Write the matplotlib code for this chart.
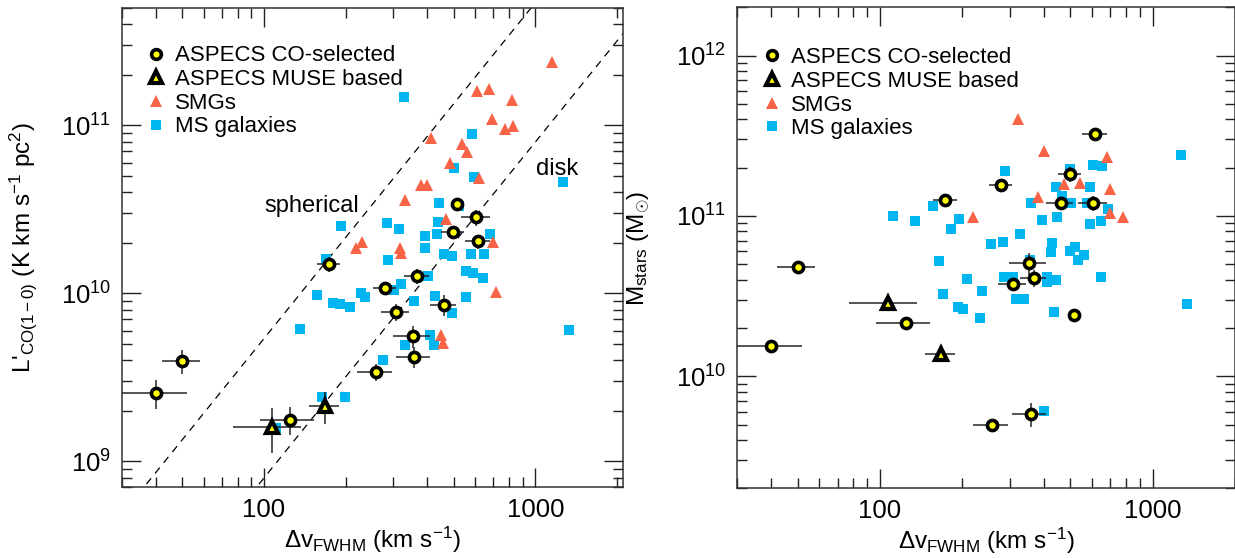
import numpy as np
import matplotlib
matplotlib.use("Agg")
import matplotlib.pyplot as plt
from matplotlib.lines import Line2D
from matplotlib.ticker import LogLocator, FuncFormatter, NullFormatter

plt.rcParams['font.family'] = ['Liberation Sans', 'DejaVu Sans']
plt.rcParams['mathtext.fontset'] = 'custom'
plt.rcParams['mathtext.rm'] = 'Liberation Sans'
plt.rcParams['mathtext.it'] = 'Liberation Sans:italic'
plt.rcParams['mathtext.bf'] = 'Liberation Sans:bold'

# ────────────────────────────────────────────────
# Data
# ────────────────────────────────────────────────
# ASPECS CO-selected: same galaxies in both panels
aspecs_v = [40, 50, 125, 174, 258, 279, 307, 353, 357, 367, 460, 498, 515, 607, 615]
aspecs_verr = [12, 8, 28, 17, 38, 27, 36, 55, 51, 40, 52, 48, 0, 75, 65]
aspecs_L = [2.56e9, 3.95e9, 1.77e9, 1.49e10, 3.40e9, 1.08e10, 7.71e9, 5.57e9,
            4.20e9, 1.27e10, 8.52e9, 2.32e10, 3.42e10, 2.83e10, 2.04e10]
aspecs_Lerr = [0.5e9, 0.62e9, 0.33e9, 1.5e9, 0.4e9, 0.8e9, 0.9e9, 0.85e9,
               0.6e9, 1.3e9, 1.2e9, 1.8e9, 0, 3.0e9, 2.0e9]
aspecs_M = [1.55e10, 4.81e10, 2.14e10, 1.26e11, 5.0e9, 1.55e11, 3.74e10, 5.07e10,
            5.81e9, 4.08e10, 1.20e11, 1.83e11, 2.40e10, 1.21e11, 3.23e11]
aspecs_Merr = [0, 0, 0, 0, 0, 0, 0, 8e9, 1e9, 5e9, 1e10, 2e10, 0, 1.3e10, 0]

# ASPECS MUSE based
muse_v = [107, 168]
muse_verr = [30, 21]
muse_L = [1.60e9, 2.13e9]
muse_Lerr = [0.48e9, 0.47e9]
muse_M = [2.85e10, 1.37e10]

# SMGs
smg_v_L = [1153, 609, 676, 822, 690, 774, 826, 412, 538, 558, 486, 623,
           378, 398, 330, 468, 230, 219, 318, 319, 698, 718, 450, 458]
smg_L = [2.39e11, 1.60e11, 1.64e11, 1.42e11, 1.09e11, 9.46e10, 9.91e10, 8.46e10,
         7.78e10, 6.97e10, 5.94e10, 4.89e10, 4.40e10, 4.40e10, 3.59e10, 2.76e10,
         2.03e10, 1.85e10, 1.85e10, 1.73e10, 2.03e10, 1.02e10, 5.62e9, 5.03e9]
smg_v_M = [321, 401, 681, 472, 543, 701, 381, 220, 697, 780]
smg_M = [4.05e11, 2.54e11, 2.33e11, 1.57e11, 1.61e11, 1.47e11, 1.31e11,
         9.86e10, 1.04e11, 9.89e10]

# MS galaxies
ms_v_L = [329, 584, 500, 596, 1262, 193, 442, 284, 316, 438, 394, 436, 684, 391,
          286, 460, 493, 578, 646, 170, 557, 590, 641, 404, 525, 157, 180, 191,
          207, 228, 235, 319, 302, 356, 426, 555, 494, 408, 331, 424, 274, 164,
          199, 1328, 136, 111]
ms_L = [1.48e11, 8.87e10, 5.55e10, 4.92e10, 4.58e10, 2.52e10, 3.45e10, 2.64e10,
        2.40e10, 2.66e10, 2.19e10, 2.25e10, 2.27e10, 1.86e10, 1.59e10, 1.72e10,
        1.67e10, 1.71e10, 1.71e10, 1.61e10, 1.36e10, 1.32e10, 1.24e10, 1.26e10,
        3.31e10, 9.83e9, 8.81e9, 8.63e9, 8.34e9, 1.0e10, 9.56e9, 1.13e10,
        1.05e10, 9.06e9, 9.64e9, 9.56e9, 7.68e9, 5.68e9, 4.90e9, 4.95e9,
        3.99e9, 2.40e9, 2.40e9, 6.08e9, 6.16e9, 1.57e9]
ms_v_M = [112, 135, 157, 165, 1268, 287, 604, 652, 444, 466, 588, 357, 502, 575,
          689, 195, 182, 393, 445, 592, 649, 326, 282, 255, 428, 424, 500, 520,
          560, 532, 356, 208, 286, 307, 409, 443, 648, 410, 170, 236, 193, 201,
          232, 316, 338, 434, 1334, 399, 500]
ms_M = [9.96e10, 9.31e10, 1.15e11, 5.23e10, 2.40e11, 1.91e11, 2.09e11, 2.05e11,
        1.52e11, 1.33e11, 1.51e11, 1.20e11, 1.21e11, 1.21e11, 1.11e11, 9.54e10,
        8.30e10, 9.40e10, 9.81e10, 8.90e10, 9.34e10, 7.66e10, 6.92e10, 6.64e10,
        6.79e10, 5.95e10, 6.00e10, 6.41e10, 5.71e10, 5.29e10, 5.32e10, 4.04e10,
        4.13e10, 4.17e10, 4.17e10, 4.00e10, 4.15e10, 3.85e10, 3.25e10, 3.40e10,
        2.71e10, 2.61e10, 2.31e10, 3.03e10, 3.03e10, 2.52e10, 2.82e10, 6.05e9,
        1.97e11]

# L' = norm * v^2 reference lines
spherical_norm = 10 ** 5.73
disk_norm = 10 ** 4.90
line_v = [20, 3000]

SMG_COLOR = '#FA6446'
MS_COLOR = '#00B6F0'
ERR_COLOR = '#262626'


def style_axis(ax, xlim, ylim):
    ax.set_xscale('log')
    ax.set_yscale('log')
    ax.set_xlim(*xlim)
    ax.set_ylim(*ylim)
    ax.xaxis.set_major_locator(LogLocator(base=10, numticks=10))
    ax.xaxis.set_minor_locator(LogLocator(base=10, subs=np.arange(2, 10), numticks=20))
    ax.xaxis.set_major_formatter(FuncFormatter(lambda x, pos: '%d' % x))
    ax.xaxis.set_minor_formatter(NullFormatter())
    ax.yaxis.set_minor_locator(LogLocator(base=10, subs=np.arange(2, 10), numticks=20))
    ax.yaxis.set_minor_formatter(NullFormatter())
    ax.tick_params(which='both', direction='in', top=True, right=True,
                   colors='#222222', labelcolor='black', labelsize=18.5)
    ax.tick_params(which='major', length=14, width=1.0, pad=8)
    ax.tick_params(which='minor', length=7, width=1.0)
    for s in ax.spines.values():
        s.set_linewidth(1.1)
        s.set_color('#333333')


def plot_points(ax, smg_x, smg_y, ms_x, ms_y, a_y, a_yerr, m_y, m_yerr):
    ax.plot(ms_x, ms_y, 's', color=MS_COLOR, ms=7.5, mew=0, zorder=2)
    ax.plot(smg_x, smg_y, '^', color=SMG_COLOR, ms=8.5, mew=0, zorder=3)
    ax.errorbar(aspecs_v, a_y, xerr=aspecs_verr, yerr=a_yerr, fmt='none',
                ecolor=ERR_COLOR, elinewidth=1.1, capsize=0, zorder=4)
    ax.errorbar(muse_v, m_y, xerr=muse_verr, yerr=m_yerr, fmt='none',
                ecolor=ERR_COLOR, elinewidth=1.1, capsize=0, zorder=4)
    ax.plot(aspecs_v, a_y, 'o', mfc='#FFFF00', mec='black', ms=7.3, mew=2.6, zorder=5)
    ax.plot(muse_v, m_y, '^', mfc='#FFFF00', mec='black', ms=8.5, mew=3.0, zorder=5)


def add_legend(ax, anchor):
    handles = [
        Line2D([], [], ls='none', marker='o', mfc='#FFFF00', mec='black', ms=7.0, mew=2.6),
        Line2D([], [], ls='none', marker='^', mfc='#FFFF00', mec='black', ms=8.5, mew=3.0),
        Line2D([], [], ls='none', marker='^', color=SMG_COLOR, ms=8.5, mew=0),
        Line2D([], [], ls='none', marker='s', color=MS_COLOR, ms=7.5, mew=0),
    ]
    labels = ['ASPECS CO-selected', 'ASPECS MUSE based', 'SMGs', 'MS galaxies']
    ax.legend(handles, labels, loc='upper left', bbox_to_anchor=anchor,
              frameon=False, fontsize=16, handlelength=0.8, handletextpad=0.45,
              labelspacing=0.12, borderaxespad=0, borderpad=0)


fig = plt.figure(figsize=(12.35, 5.58), dpi=100)
ax1 = fig.add_axes([0.0988, 0.1267, 0.4054, 0.859])
ax2 = fig.add_axes([0.597, 0.1249, 0.4027, 0.862])

# ── left panel: L'CO vs line width
style_axis(ax1, (30, 2100), (7e8, 5e11))
lv = np.array(line_v, dtype=float)
ax1.plot(lv, spherical_norm * lv ** 2, color='black', lw=0.9, ls=(0, (6, 5)), zorder=1)
ax1.plot(lv, disk_norm * lv ** 2, color='black', lw=0.9, ls=(0, (6, 5)), zorder=1)
plot_points(ax1, smg_v_L, smg_L, ms_v_L, ms_L, aspecs_L, aspecs_Lerr, muse_L, muse_Lerr)
ax1.text(100.6, 3.03e10, 'spherical', fontsize=17, ha='left', va='baseline')
ax1.text(1006, 5.06e10, 'disk', fontsize=17, ha='left', va='baseline')
add_legend(ax1, (0.05, 0.922))
ax1.set_xlabel(r'$\Delta$v$_{\rm FWHM}$ (km s$^{-1}$)', fontsize=17.5, labelpad=2)
ax1.set_ylabel(r"L$'_{\rm CO(1-0)}$ (K km s$^{-1}$ pc$^{2}$)", fontsize=17.5)
ax1.yaxis.set_label_coords(-0.165, 0.5)

# ── right panel: stellar mass vs line width
style_axis(ax2, (30, 2000), (2e9, 2e12))
plot_points(ax2, smg_v_M, smg_M, ms_v_M, ms_M, aspecs_M, aspecs_Merr,
            muse_M, [0, 0])
add_legend(ax2, (0.052, 0.917))
ax2.set_xlabel(r'$\Delta$v$_{\rm FWHM}$ (km s$^{-1}$)', fontsize=17.5, labelpad=2)
ax2.set_ylabel(r'M$_{\rm stars}$ (M$_{\odot}$)', fontsize=17.5)
ax2.yaxis.set_label_coords(-0.172, 0.5)

fig.savefig('out.png', dpi=100)
